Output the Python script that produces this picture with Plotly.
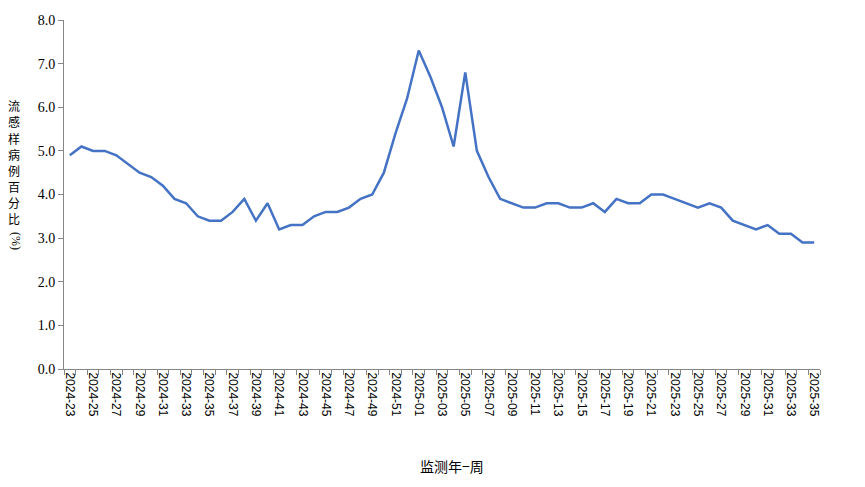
import plotly.graph_objects as go

weeks = [f"2024-{w:02d}" for w in range(23, 53)] + [f"2025-{w:02d}" for w in range(1, 36)]
ili_pct = [
    4.9, 5.1, 5.0, 5.0, 4.9, 4.7, 4.5, 4.4, 4.2, 3.9,
    3.8, 3.5, 3.4, 3.4, 3.6, 3.9, 3.4, 3.8, 3.2, 3.3,
    3.3, 3.5, 3.6, 3.6, 3.7, 3.9, 4.0, 4.5, 5.4, 6.2,
    7.3, 6.7, 6.0, 5.1, 6.8, 5.0, 4.4, 3.9, 3.8, 3.7,
    3.7, 3.8, 3.8, 3.7, 3.7, 3.8, 3.6, 3.9, 3.8, 3.8,
    4.0, 4.0, 3.9, 3.8, 3.7, 3.8, 3.7, 3.4, 3.3, 3.2,
    3.3, 3.1, 3.1, 2.9, 2.9,
]
y_title_chars = list("流感样病例百分比")
y_title_unit = "(%)"
x_title = "监测年−周"

idx = list(range(len(weeks)))
tick_idx = idx[::2]
tick_text = weeks[::2]

# page body has an 8px offset; plot area targets screen px 64..820 x 20..369
OFF = 8
W, H = 865, 487
ML, MR, MT, MB = 64 - OFF, 865 - 820 + OFF, 20 - OFF, 487 - 369 + OFF
plot_top_s, plot_bot_s, plot_left_s = 20, 369, 64


def paper_y(py):
    return (plot_bot_s - py) / (plot_bot_s - plot_top_s)


fig = go.Figure()
fig.add_trace(go.Scatter(
    x=idx, y=ili_pct, mode="lines",
    line=dict(color="#4472C4", width=2.5),
    hoverinfo="skip", showlegend=False,
))

annotations = []
for i, ch in enumerate(y_title_chars):
    annotations.append(dict(
        text=ch, xref="paper", yref="paper", x=0, y=paper_y(106 + 16 * i),
        xshift=14 - plot_left_s, showarrow=False, xanchor="center", yanchor="middle",
        font=dict(family="Noto Sans CJK SC", size=12, color="#000"),
    ))
annotations.append(dict(
    text=y_title_unit, xref="paper", yref="paper", x=0, y=paper_y(241),
    xshift=16 - plot_left_s, showarrow=False, xanchor="center", yanchor="middle",
    textangle=90, font=dict(family="Liberation Serif", size=12, color="#000"),
))
annotations.append(dict(
    text=x_title, xref="paper", yref="paper", x=0.5, y=0,
    xshift=10, yshift=-97, showarrow=False, yanchor="middle",
    font=dict(family="Noto Sans CJK SC", size=14, color="#000"),
))

fig.update_layout(
    width=W, height=H,
    margin=dict(l=ML, r=MR, t=MT, b=MB),
    paper_bgcolor="white", plot_bgcolor="white",
    font=dict(family="Liberation Serif", color="#000000"),
    xaxis=dict(
        range=[-0.5, len(weeks) - 0.5], automargin=False,
        tickmode="array", tickvals=tick_idx, ticktext=tick_text,
        tickangle=90, ticks="", ticklen=0,
        tickfont=dict(family="Liberation Sans", size=12, color="#000"),
        showgrid=False, zeroline=False,
        showline=True, linecolor="#868686", linewidth=1,
        minor=dict(tickmode="linear", tick0=-0.5, dtick=1, ticks="outside",
                   ticklen=5, tickcolor="#868686", tickwidth=1, showgrid=False),
    ),
    yaxis=dict(
        range=[0, 8], dtick=1, tick0=0, tickformat=".1f", automargin=False,
        ticks="outside", ticklen=5, tickcolor="#868686",
        tickfont=dict(family="Liberation Serif", size=14, color="#000"),
        showgrid=False, zeroline=False,
        showline=True, linecolor="#868686", linewidth=1,
    ),
    annotations=annotations,
)

fig.write_html("out.html")
